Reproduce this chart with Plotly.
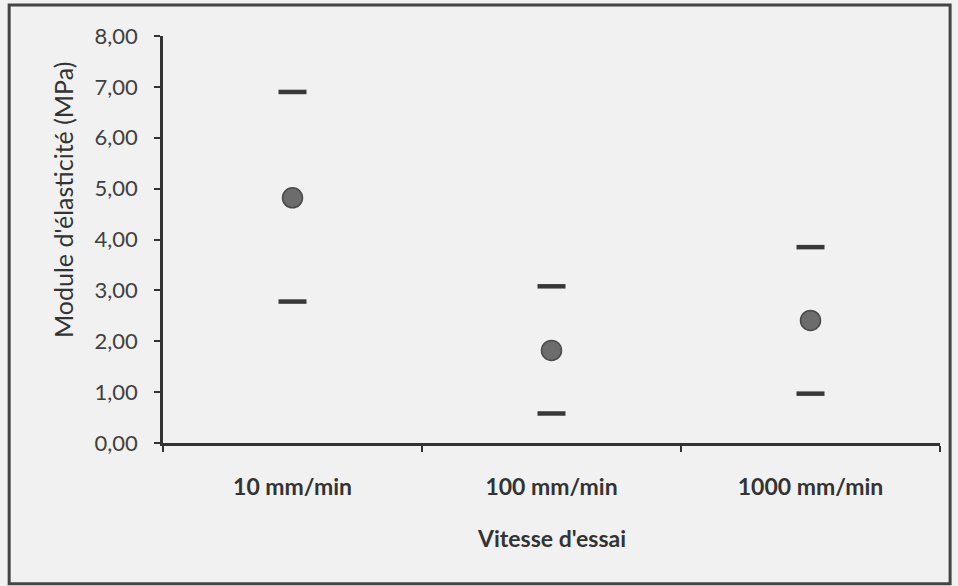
import plotly.graph_objects as go

categories = ["10 mm/min", "100 mm/min", "1000 mm/min"]
mean_values = [4.82, 1.82, 2.41]
upper_values = [6.90, 3.08, 3.85]
lower_values = [2.78, 0.58, 0.97]
y_ticks = [0, 1, 2, 3, 4, 5, 6, 7, 8]
y_tick_labels = ["0,00", "1,00", "2,00", "3,00", "4,00", "5,00", "6,00", "7,00", "8,00"]
x_title = "Vitesse d'essai"
y_title = "Module d'élasticité (MPa)"

fig = go.Figure()
fig.add_trace(go.Scatter(
    x=categories, y=upper_values, mode="markers",
    marker=dict(symbol="line-ew", size=20, line=dict(width=4.5, color="#383838")),
    showlegend=False))
fig.add_trace(go.Scatter(
    x=categories, y=lower_values, mode="markers",
    marker=dict(symbol="line-ew", size=20, line=dict(width=4.5, color="#383838")),
    showlegend=False))
fig.add_trace(go.Scatter(
    x=categories, y=mean_values, mode="markers",
    marker=dict(symbol="circle", size=20, color="#6c6c6c", line=dict(width=1.5, color="#4a4a4a")),
    showlegend=False))

font_family = "Lato, 'Open Sans', sans-serif"
fig.update_layout(
    width=958, height=586,
    margin=dict(l=163, r=18, t=36, b=143),
    paper_bgcolor="#f1f1f1", plot_bgcolor="#f1f1f1",
    font=dict(family=font_family, color="#333333"),
    xaxis=dict(
        type="category", tickson="boundaries", ticks="outside", ticklen=6, tickwidth=2,
        tickcolor="#333333", showline=True, linecolor="#333333", linewidth=2.5,
        showgrid=False, zeroline=False, range=[-0.5, 2.5],
        tickfont=dict(size=23, family=font_family, color="#333333", weight="bold"),
        ticklabelstandoff=22,
    ),
    yaxis=dict(
        range=[0, 8], tickvals=y_ticks, ticktext=y_tick_labels,
        ticks="outside", ticklen=6, tickwidth=2, tickcolor="#333333",
        showline=True, linecolor="#333333", linewidth=2.5, showgrid=False, zeroline=False,
        tickfont=dict(size=22, color="#404040"),
        ticklabelstandoff=12,
    ),
)
fig.add_annotation(text=x_title, xref="paper", yref="paper", x=0.5, y=-0.233,
                   showarrow=False, xanchor="center", yanchor="middle",
                   font=dict(size=23, weight="bold", color="#333333", family=font_family))
fig.add_annotation(text=y_title, xref="paper", yref="paper", x=-0.1287, y=0.597,
                   showarrow=False, xanchor="center", yanchor="middle", textangle=-90,
                   font=dict(size=25, color="#333333", family=font_family))
fig.add_shape(type="rect", xref="paper", yref="paper",
              x0=-0.198, x1=1.013, y0=-0.346, y1=1.076,
              line=dict(color="#444444", width=3), fillcolor="rgba(0,0,0,0)", layer="below")
fig.write_html("out.html", config={"displayModeBar": False},
               post_script="document.body.style.margin='0';")
